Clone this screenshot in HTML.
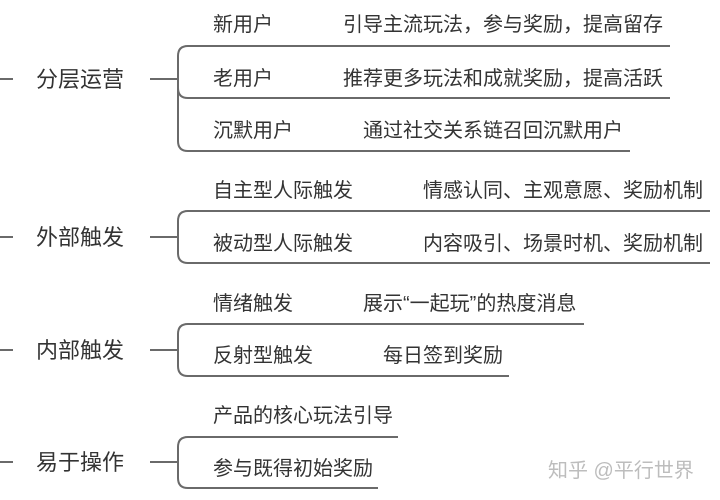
<!DOCTYPE html>
<html><head><meta charset="utf-8"><style>
html,body{margin:0;padding:0;background:#fff;}
svg{display:block;}
text{font-family:"Liberation Sans","Noto Sans CJK SC",sans-serif;fill:#333;}
.m{font-size:22px;}
.l{font-size:20px;}
</style></head><body>
<svg width="720" height="500" viewBox="0 0 720 500" xmlns="http://www.w3.org/2000/svg">
<g fill="none" stroke="#6a6a6a" stroke-width="2">
<line x1="0" y1="79" x2="13" y2="79"/>
<line x1="150" y1="79" x2="178" y2="79"/>
<path d="M670 46 H188 Q178 46 178 56 V141 Q178 151 188 151 H630"/>
<path d="M670 98 H188 Q178 98 178 88"/>
<line x1="0" y1="237" x2="13" y2="237"/>
<line x1="150" y1="237" x2="178" y2="237"/>
<path d="M710 211 H188 Q178 211 178 221 V253 Q178 263 188 263 H710"/>
<line x1="0" y1="350" x2="13" y2="350"/>
<line x1="150" y1="350" x2="178" y2="350"/>
<path d="M584 324 H188 Q178 324 178 334 V366 Q178 376 188 376 H509"/>
<line x1="0" y1="462" x2="13" y2="462"/>
<line x1="150" y1="462" x2="178" y2="462"/>
<path d="M398 437 H188 Q178 437 178 447 V478 Q178 488 188 488 H378"/>
</g>
<text class="m" x="36" y="87">分层运营</text>
<text class="m" x="36" y="245">外部触发</text>
<text class="m" x="36" y="358">内部触发</text>
<text class="m" x="36" y="470">易于操作</text>

<text class="l" x="213" y="31">新用户</text>
<text class="l" x="343" y="31">引导主流玩法，参与奖励，提高留存</text>
<text class="l" x="213" y="85">老用户</text>
<text class="l" x="343" y="85">推荐更多玩法和成就奖励，提高活跃</text>
<text class="l" x="213" y="137">沉默用户</text>
<text class="l" x="363" y="137">通过社交关系链召回沉默用户</text>

<text class="l" x="213" y="197">自主型人际触发</text>
<text class="l" x="423" y="197">情感认同、主观意愿、奖励机制</text>
<text class="l" x="213" y="250">被动型人际触发</text>
<text class="l" x="423" y="250">内容吸引、场景时机、奖励机制</text>

<text class="l" x="213" y="310">情绪触发</text>
<text class="l" x="363" y="310">展示“一起玩”的热度消息</text>
<text class="l" x="213" y="362">反射型触发</text>
<text class="l" x="383" y="362">每日签到奖励</text>

<text class="l" x="213" y="422">产品的核心玩法引导</text>
<text class="l" x="213" y="475">参与既得初始奖励</text>

<text x="548" y="477" style="font-size:20px;fill:#bdbdbd;">知乎 @平行世界</text>
</svg>
</body></html>
